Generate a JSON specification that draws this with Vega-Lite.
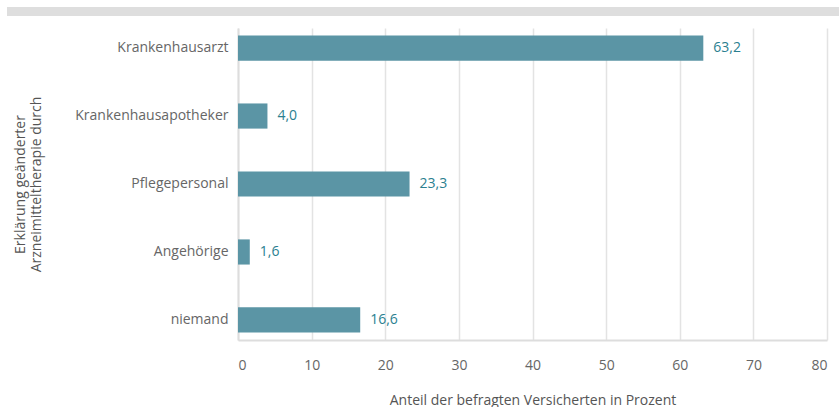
{
  "$schema": "https://vega.github.io/schema/vega-lite/v6.json",
  "padding": {"left": 7, "top": 7, "right": 0, "bottom": 0},
  "spacing": 12,
  "config": {
    "font": "Open Sans",
    "view": {"stroke": null},
    "axis": {"labelColor": "#666666", "titleColor": "#555555", "labelFont": "Open Sans", "titleFont": "Open Sans", "titleFontWeight": "normal"}
  },
  "data": {
    "values": [
      {"kategorie": "Krankenhausarzt", "wert": 63.2, "label": "63,2"},
      {"kategorie": "Krankenhausapotheker", "wert": 4.0, "label": "4,0"},
      {"kategorie": "Pflegepersonal", "wert": 23.3, "label": "23,3"},
      {"kategorie": "Angehörige", "wert": 1.6, "label": "1,6"},
      {"kategorie": "niemand", "wert": 16.6, "label": "16,6"}
    ]
  },
  "vconcat": [
    {
      "width": 832,
      "height": 9,
      "view": {"fill": "#dedede", "stroke": null},
      "mark": {"type": "point", "opacity": 0},
      "encoding": {}
    },
    {
      "spacing": 0,
      "hconcat": [
        {
          "width": 6,
          "height": 312,
          "mark": {"type": "point", "opacity": 0},
          "encoding": {}
        },
        {
          "width": 589,
          "height": 312,
          "encoding": {
            "y": {
              "field": "kategorie",
              "type": "nominal",
              "sort": null,
              "scale": {"paddingInner": 0.63, "paddingOuter": 0.11},
              "axis": {
                "title": ["Erklärung geänderter", "Arzneimitteltherapie durch"],
                "titleFontSize": 14,
                "titlePadding": 31,
                "labelFontSize": 14,
                "labelPadding": 10,
                "ticks": false,
                "domain": true,
                "domainColor": "#dddddd",
                "domainWidth": 2,
                "grid": false
              }
            },
            "x": {
              "field": "wert",
              "type": "quantitative",
              "scale": {"domain": [0, 80], "nice": false},
              "axis": {
                "title": "Anteil der befragten Versicherten in Prozent",
                "titleFontSize": 14,
                "titlePadding": 21,
                "labelFontSize": 14,
                "labelPadding": 18,
                "values": [0, 10, 20, 30, 40, 50, 60, 70, 80],
                "ticks": false,
                "domain": true,
                "domainColor": "#dddddd",
                "domainWidth": 2,
                "grid": true,
                "gridColor": "#e3e3e3",
                "gridWidth": 1.5
              }
            }
          },
          "layer": [
            {"mark": {"type": "bar", "color": "#5b95a5"}},
            {
              "mark": {"type": "text", "align": "left", "dx": 10, "fontSize": 14, "color": "#2b7f90", "font": "Open Sans"},
              "encoding": {"text": {"field": "label"}}
            }
          ]
        }
      ]
    }
  ]
}
